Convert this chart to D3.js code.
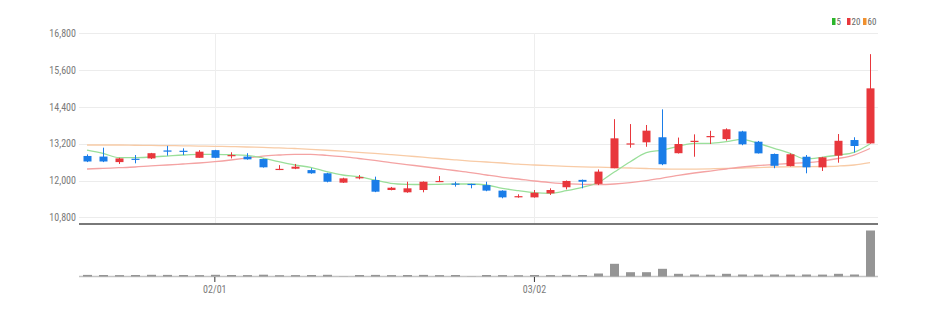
<!DOCTYPE html>
<html>
<head>
<meta charset="utf-8">
<script src="https://d3js.org/d3.v7.min.js"></script>
<style>
  body { margin: 0; background: #fff; }
  svg text { font-family: "Liberation Sans Narrow", "Roboto Condensed", "Liberation Sans", sans-serif; }
</style>
</head>
<body>
<div id="container"></div>
<script>
// trading days shown on the chart
var dates = ["01/18","01/19","01/20","01/25","01/26","01/27","01/30","01/31",
  "02/01","02/02","02/03","02/06","02/07","02/08","02/09","02/10","02/13","02/14","02/15","02/16",
  "02/17","02/20","02/21","02/22","02/23","02/24","02/27","02/28",
  "03/02","03/03","03/06","03/07","03/08","03/09","03/10","03/13","03/14","03/15","03/16","03/17",
  "03/20","03/21","03/22","03/23","03/24","03/27","03/28","03/29","03/30","03/31"];

var openP  = [12800,12780,12600,12710,12720,12980,12970,12740,12990,12800,12780,12700,12350,12385,12340,12235,11930,12080,12015,11690,
  11615,11690,11960,11900,11890,11850,11670,11460,11450,11580,11780,12020,11890,12400,13180,13245,13410,12890,13265,13420,
  13350,13600,13265,12865,12470,12775,12430,12810,13320,13210];
var highP  = [12850,13070,12740,12830,12900,13130,13050,12990,13000,12920,12890,12710,12500,12540,12400,12250,12090,12180,12125,11790,
  11960,11970,12145,11960,11895,11960,11680,11550,11690,11745,12000,12030,12360,14000,13840,13810,14320,13400,13505,13620,
  13700,13620,13290,12880,12885,12830,12770,13515,13410,16120];
var lowP   = [12600,12600,12540,12560,12700,12810,12830,12740,12730,12720,12680,12420,12340,12370,12220,11940,11920,12040,11620,11680,
  11600,11615,11950,11800,11745,11650,11420,11440,11440,11530,11710,11745,11850,12400,13070,13100,12500,12880,12775,13190,
  13300,13150,12880,12400,12460,12235,12310,12580,12910,13200];
var closeP = [12620,12620,12720,12690,12890,12940,12950,12940,12740,12830,12690,12430,12380,12450,12235,11960,12070,12110,11635,11765,
  11745,11960,11985,11880,11870,11670,11450,11490,11600,11690,11985,11960,12290,13375,13210,13625,12530,13190,13295,13450,
  13670,13180,12885,12480,12855,12430,12755,13295,13125,15005];
var volume = [160000,150000,140000,150000,170000,160000,150000,140000,170000,150000,140000,180000,130000,140000,150000,170000,20000,150000,160000,140000,
  150000,160000,140000,150000,20000,150000,140000,130000,150000,140000,160000,150000,300000,1270000,430000,430000,770000,270000,200000,180000,
  270000,200000,190000,200000,190000,200000,190000,270000,200000,4600000];

// moving averages
var ma5  = [12990,12886,12743,12743,12766,12798,12831,12854,12854,12841,12821,12733,12613,12505,12430,12287,12179,12124,12016,11908,
  11876,11870,11876,11886,11886,11853,11745,11667,11602,11582,11667,11778,11934,12277,12613,12906,12994,13115,13212,13212,
  13265,13343,13212,13049,12886,12701,12756,12831,12919,13190];
var ma20 = [12375,12397,12417,12440,12476,12505,12538,12570,12613,12668,12733,12798,12831,12854,12854,12821,12776,12717,12658,12586,
  12521,12456,12391,12326,12260,12179,12104,12049,11983,11934,11895,11876,11869,11886,11928,11993,12081,12169,12244,12309,
  12375,12440,12489,12521,12554,12580,12635,12717,12831,13043];
var ma60 = [13157,13157,13157,13150,13144,13137,13131,13124,13115,13105,13092,13079,13066,13043,13017,12987,12955,12919,12886,12847,
  12805,12759,12717,12675,12635,12603,12570,12531,12505,12482,12463,12446,12433,12420,12407,12391,12375,12368,12371,12381,
  12394,12407,12423,12440,12446,12450,12456,12472,12505,12580];

var yTicks = [10800, 12000, 13200, 14400, 15600, 16800];
var xTickLabels = ["02/01", "03/02"];
var legendNames = ["5", "20", "60"];

var colUp = "#e8373c", colDown = "#1a7de8";
var maColors = ["#9adf9a", "#f4a3a3", "#f8cba6"];
var legendColors = ["#2bb52b", "#e8373c", "#f0902e"];

var svg = d3.select("div#container")
  .append("svg")
  .attr("width", 933)
  .attr("height", 311);

var left = 79, right = 878;

var x = d3.scaleBand().domain(dates).range([left, right]);
var y = d3.scaleLinear().domain([10800, 16800]).range([217.3, 33.3]);
var yVol = d3.scaleLinear().domain([0, 4850000]).range([276.5, 228]);
var cx = function(d) { return x(d) + x.bandwidth() / 2; };

//grid lines
svg.append("g").selectAll("line")
  .data(yTicks)
  .enter().append("line")
  .attr("x1", left).attr("x2", right)
  .attr("y1", function(d) { return Math.round(y(d)) + 0.5; })
  .attr("y2", function(d) { return Math.round(y(d)) + 0.5; })
  .attr("stroke", "#ececec");

svg.append("g").selectAll("line")
  .data(xTickLabels)
  .enter().append("line")
  .attr("x1", function(d) { return Math.round(cx(d)) + 0.5; })
  .attr("x2", function(d) { return Math.round(cx(d)) + 0.5; })
  .attr("y1", 33).attr("y2", 223)
  .attr("stroke", "#eeeeee");

//y axis labels
var yAxis = svg.append("g")
  .attr("transform", "translate(" + left + ",0)")
  .call(d3.axisLeft(y).tickValues(yTicks).tickSize(0).tickPadding(3).tickFormat(d3.format(",")));
yAxis.select(".domain").remove();
yAxis.selectAll("text").attr("fill", "#7a7a7a").style("font-size", "10px");

//moving average lines
var maData = [ma5, ma20, ma60];
var line = d3.line()
  .x(function(d, i) { return cx(dates[i]); })
  .y(function(d) { return y(d); })
  .curve(d3.curveMonotoneX);

svg.append("g").selectAll("path")
  .data(maData.slice().reverse())
  .enter().append("path")
  .attr("d", line)
  .attr("fill", "none")
  .attr("stroke", function(d, i) { return maColors[2 - i]; })
  .attr("stroke-width", 1.3);

//candles
var candles = svg.append("g").selectAll("g")
  .data(dates)
  .enter().append("g");

var candleColor = function(i) { return closeP[i] >= openP[i] ? colUp : colDown; };

candles.append("line")
  .attr("x1", function(d) { return Math.round(cx(d)) + 0.5; })
  .attr("x2", function(d) { return Math.round(cx(d)) + 0.5; })
  .attr("y1", function(d, i) { return y(highP[i]); })
  .attr("y2", function(d, i) { return y(lowP[i]); })
  .attr("stroke", function(d, i) { return candleColor(i); })
  .attr("stroke-width", 1);

candles.append("rect")
  .attr("x", function(d) { return Math.round(cx(d)) - 3.5; })
  .attr("width", 8)
  .attr("y", function(d, i) { return y(Math.max(openP[i], closeP[i])); })
  .attr("height", function(d, i) { return Math.max(1.2, Math.abs(y(openP[i]) - y(closeP[i]))); })
  .attr("fill", function(d, i) { return candleColor(i); });

//separator between price and volume
svg.append("line")
  .attr("x1", left).attr("x2", right)
  .attr("y1", 224).attr("y2", 224)
  .attr("stroke", "#4d4d4d")
  .attr("stroke-width", 1.6);

//volume
svg.append("line")
  .attr("x1", left).attr("x2", right)
  .attr("y1", 276.5).attr("y2", 276.5)
  .attr("stroke", "#c4c4c4")
  .attr("stroke-width", 1.5);

svg.append("g").selectAll("rect")
  .data(dates)
  .enter().append("rect")
  .attr("x", function(d) { return Math.round(cx(d)) - 4; })
  .attr("width", 9)
  .attr("y", function(d, i) { return yVol(volume[i]); })
  .attr("height", function(d, i) { return 276.5 - yVol(volume[i]); })
  .attr("fill", "#959595");

//x axis
var xAxis = svg.append("g")
  .attr("transform", "translate(0,277)")
  .call(d3.axisBottom(x).tickValues(xTickLabels).tickSize(5).tickPadding(4));
xAxis.select(".domain").remove();
xAxis.selectAll("line").attr("stroke", "#333");
xAxis.selectAll("text").attr("fill", "#7a7a7a").style("font-size", "10px");

//legend
var legend = svg.append("g")
  .attr("transform", "translate(832,18)");

var lx = [0, 15, 31];
var items = legend.selectAll("g")
  .data(legendNames)
  .enter().append("g")
  .attr("transform", function(d, i) { return "translate(" + lx[i] + ",0)"; });

items.append("rect")
  .attr("width", 3.5).attr("height", 7)
  .attr("fill", function(d, i) { return legendColors[i]; });

items.append("text")
  .attr("x", 4.5).attr("y", 6.5)
  .text(function(d) { return d; })
  .attr("fill", "#666")
  .style("font-size", "9px");
</script>
</body>
</html>
